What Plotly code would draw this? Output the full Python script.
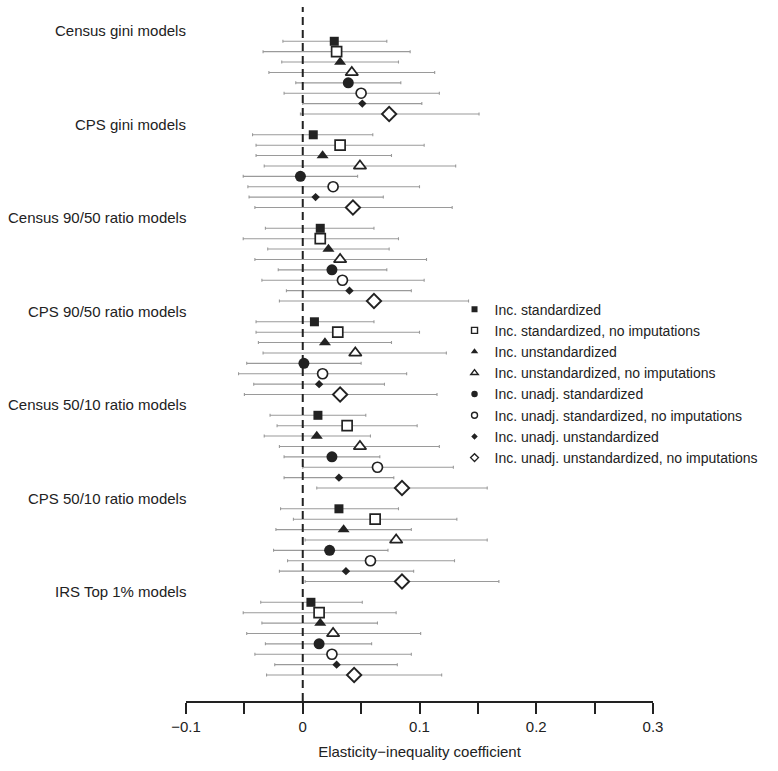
import plotly.graph_objects as go

# group labels (top to bottom)
groups = ["Census gini models", "CPS gini models", "Census 90/50 ratio models",
          "CPS 90/50 ratio models", "Census 50/10 ratio models",
          "CPS 50/10 ratio models", "IRS Top 1% models"]

models = ["Inc. standardized", "Inc. standardized, no imputations",
          "Inc. unstandardized", "Inc. unstandardized, no imputations",
          "Inc. unadj. standardized", "Inc. unadj. standardized, no imputations",
          "Inc. unadj. unstandardized", "Inc. unadj. unstandardized, no imputations"]

# estimates / lower / upper bounds per group, one value per model
census_gini_est = [0.027, 0.029, 0.032, 0.042, 0.039, 0.050, 0.051, 0.074]
census_gini_lo = [-0.017, -0.034, -0.018, -0.029, -0.006, -0.016, 0.000, -0.002]
census_gini_hi = [0.072, 0.092, 0.082, 0.113, 0.084, 0.117, 0.102, 0.151]

cps_gini_est = [0.009, 0.032, 0.017, 0.049, -0.002, 0.026, 0.011, 0.043]
cps_gini_lo = [-0.043, -0.040, -0.040, -0.033, -0.051, -0.047, -0.046, -0.041]
cps_gini_hi = [0.060, 0.104, 0.076, 0.131, 0.047, 0.100, 0.069, 0.128]

census_9050_est = [0.015, 0.015, 0.022, 0.032, 0.025, 0.034, 0.040, 0.061]
census_9050_lo = [-0.032, -0.051, -0.030, -0.041, -0.021, -0.035, -0.014, -0.020]
census_9050_hi = [0.061, 0.082, 0.074, 0.106, 0.072, 0.104, 0.093, 0.142]

cps_9050_est = [0.010, 0.030, 0.019, 0.045, 0.001, 0.017, 0.014, 0.032]
cps_9050_lo = [-0.040, -0.040, -0.038, -0.034, -0.048, -0.055, -0.042, -0.050]
cps_9050_hi = [0.061, 0.100, 0.076, 0.123, 0.050, 0.089, 0.070, 0.115]

census_5010_est = [0.013, 0.038, 0.012, 0.049, 0.025, 0.064, 0.031, 0.085]
census_5010_lo = [-0.028, -0.022, -0.033, -0.020, -0.016, 0.000, -0.016, 0.012]
census_5010_hi = [0.054, 0.098, 0.058, 0.117, 0.066, 0.129, 0.078, 0.158]

cps_5010_est = [0.031, 0.062, 0.035, 0.080, 0.023, 0.058, 0.037, 0.085]
cps_5010_lo = [-0.019, -0.008, -0.023, 0.002, -0.025, -0.013, -0.020, 0.002]
cps_5010_hi = [0.082, 0.132, 0.093, 0.158, 0.073, 0.130, 0.095, 0.168]

irs_top1_est = [0.007, 0.014, 0.015, 0.026, 0.014, 0.025, 0.029, 0.044]
irs_top1_lo = [-0.036, -0.051, -0.035, -0.048, -0.032, -0.041, -0.024, -0.031]
irs_top1_hi = [0.051, 0.080, 0.064, 0.101, 0.059, 0.093, 0.081, 0.119]

tick_vals = [-0.1, -0.05, 0, 0.05, 0.1, 0.15, 0.2, 0.25, 0.3]
tick_text = ["\u22120.1", "", "0", "", "0.1", "", "0.2", "", "0.3"]

est_all = [census_gini_est, cps_gini_est, census_9050_est, cps_9050_est,
           census_5010_est, cps_5010_est, irs_top1_est]
lo_all = [census_gini_lo, cps_gini_lo, census_9050_lo, cps_9050_lo,
          census_5010_lo, cps_5010_lo, irs_top1_lo]
hi_all = [census_gini_hi, cps_gini_hi, census_9050_hi, cps_9050_hi,
          census_5010_hi, cps_5010_hi, irs_top1_hi]

# marker style per model: symbol, size, fill, outline width
styles = [
    ("square", 9, "#222222", 0),
    ("square", 10, "white", 1.7),
    ("triangle-up", 10.5, "#222222", 0),
    ("triangle-up", 11, "white", 1.7),
    ("circle", 11, "#222222", 0),
    ("circle", 10, "white", 1.7),
    ("diamond", 6.5, "#222222", 0),
    ("diamond", 11, "white", 1.9),
]

FONT = "Liberation Sans, Arial, sans-serif"
fig = go.Figure()

# each group takes 9 slots: label slot + 8 model rows
for m, name in enumerate(models):
    sym, size, fill, lw = styles[m]
    xs = [est_all[g][m] for g in range(len(groups))]
    ys = [g * 9 + m + 1 for g in range(len(groups))]
    plus = [hi_all[g][m] - est_all[g][m] for g in range(len(groups))]
    minus = [est_all[g][m] - lo_all[g][m] for g in range(len(groups))]
    fig.add_trace(go.Scatter(
        x=xs, y=ys, mode="markers", showlegend=False,
        marker=dict(symbol=sym, size=size, color=fill,
                    line=dict(color="#222222", width=lw)),
        error_x=dict(type="data", array=plus, arrayminus=minus,
                     color="#9a9a9a", thickness=1.1, width=1.5),
    ))

# legend entries with small markers
legend_styles = [
    ("square", 6, "#222222", 0),
    ("square", 6, "white", 1.4),
    ("triangle-up", 6.5, "#222222", 0),
    ("triangle-up", 6.5, "white", 1.4),
    ("circle", 6.5, "#222222", 0),
    ("circle", 6, "white", 1.4),
    ("diamond", 5, "#222222", 0),
    ("diamond", 6, "white", 1.4),
]
for m, name in enumerate(models):
    sym, size, fill, lw = legend_styles[m]
    fig.add_trace(go.Scatter(
        x=[None], y=[None], mode="markers", name=name,
        marker=dict(symbol=sym, size=size, color=fill,
                    line=dict(color="#222222", width=lw)),
    ))

# group labels
for g, label in enumerate(groups):
    fig.add_annotation(x=0, xref="paper", y=g * 9, yref="y", text=label,
                       showarrow=False, xanchor="right", yanchor="middle",
                       xshift=2, font=dict(size=15, color="#222222", family=FONT))

fig.add_shape(type="line", x0=0, x1=0, xref="x", y0=0, y1=1.0, yref="paper",
              line=dict(color="#222222", width=2, dash="8px,5px"))

fig.update_layout(
    width=778, height=771,
    margin=dict(l=186, r=125, t=7, b=70),
    plot_bgcolor="white", paper_bgcolor="white",
    font=dict(family=FONT, size=15, color="#222222"),
    showlegend=True,
    legend=dict(x=0.575, y=0.587, xanchor="left", yanchor="top",
                bgcolor="rgba(0,0,0,0)", font=dict(size=14, color="#222222"),
                tracegroupgap=0, itemwidth=30),
    xaxis=dict(range=[-0.1, 0.3], showgrid=False, zeroline=False,
               showline=True, linecolor="#222222", linewidth=1.5,
               ticks="outside", ticklen=11, tickwidth=1.5, tickcolor="#222222",
               tickvals=tick_vals, ticktext=tick_text,
               tickfont=dict(size=15, color="#222222"),
               title=dict(text="Elasticity\u2212inequality coefficient",
                          font=dict(size=15, color="#222222"), standoff=13)),
    yaxis=dict(range=[64.5, -2.3], visible=False, showgrid=False, zeroline=False),
)

fig.write_html("out.html", config={"displayModeBar": False},
               post_script="document.body.style.margin='0px';")
